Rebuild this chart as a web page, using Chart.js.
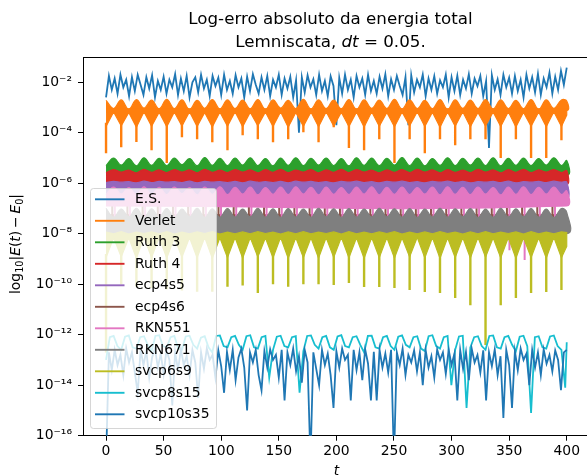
<!DOCTYPE html>
<html>
<head>
<meta charset="utf-8">
<script src="https://cdn.jsdelivr.net/npm/chart.js@4.4.1/dist/chart.umd.min.js"></script>
<style>
  html, body { margin: 0; padding: 0; background: #fff; }
</style>
</head>
<body>
<canvas id="grafico" width="587" height="476"></canvas>
<script>
// Log10 do erro absoluto da energia, Lemniscata com dt = 0.05
// Os valores abaixo são expoentes (log10), convertidos em 10**e na hora de montar os datasets.

const FONTE = 'DejaVu Sans, sans-serif';

// grades de tempo (meio período e quarto de período da órbita, ~13.18)
const passoMeio = 6.59;
const passoQuarto = 3.295;
const passoRuido = 2.5;
const tMeio = Array.from({ length: 61 }, (_, i) => +(i * passoMeio).toFixed(2)).concat([400]);
const tQuarto = Array.from({ length: 122 }, (_, i) => +(i * passoQuarto).toFixed(2)).concat([400]);
const tRuido = Array.from({ length: 161 }, (_, i) => i * passoRuido);
const tPicos = tMeio.filter((_, i) => i % 2 === 0 && i <= 60);   // k*P
const tVales = tMeio.filter((_, i) => i % 2 === 1 && i < 60);    // (k+1/2)*P
const tExtremos = [0, 400];

const rotulos = ['E.S.', 'Verlet', 'Ruth 3', 'Ruth 4', 'ecp4s5', 'ecp4s6',
  'RKN551', 'RKN671', 'svcp6s9', 'svcp8s15', 'svcp10s35'];
const cores = ['#1f77b4', '#ff7f0e', '#2ca02c', '#d62728', '#9467bd', '#8c564b',
  '#e377c2', '#7f7f7f', '#bcbd22', '#17becf', '#1f77b4'];

const xTicks = [0, 50, 100, 150, 200, 250, 300, 350, 400];
const yExpoentes = [-16, -14, -12, -10, -8, -6, -4, -2];

// E.S. (linha ruidosa, passo 2.5)
const esExp = [
  -2.60, -1.75, -2.30, -1.85, -2.45, -1.70, -2.20, -1.90, -2.55, -1.80,
  -2.35, -1.70, -2.10, -2.50, -1.80, -2.25, -1.72, -2.60, -1.95, -2.30,
  -1.78, -2.45, -1.90, -2.20, -1.68, -2.50, -1.85, -2.35, -1.75, -2.60,
  -2.00, -1.80, -2.40, -1.70, -2.25, -1.90, -2.55, -1.75, -2.15, -1.82,
  -2.50, -1.70, -2.30, -1.95, -2.45, -1.72, -2.20, -1.85, -2.60, -1.78,
  -2.35, -1.68, -2.10, -2.45, -1.80, -2.30, -1.75, -2.55, -1.90, -2.20,
  -1.70, -2.50, -1.85, -2.25, -1.78, -2.60, -1.92, -4.00, -1.80, -2.40,
  -1.72, -2.20, -1.88, -2.50, -1.70, -2.35, -1.95, -2.55, -1.76, -2.15,
  -3.70, -1.82, -2.45, -1.70, -2.30, -1.90, -2.60, -1.75, -2.20, -1.85,
  -2.50, -1.70, -2.35, -1.95, -2.45, -1.78, -2.25, -1.68, -2.55, -1.88,
  -2.30, -1.75, -2.15, -2.50, -1.80, -3.70, -1.72, -2.40, -1.90, -2.20,
  -1.70, -2.55, -1.85, -2.30, -1.76, -2.45, -1.92, -2.20, -1.70, -2.60,
  -1.80, -2.35, -1.74, -2.50, -1.90, -2.25, -1.68, -2.45, -1.85, -2.15,
  -1.75, -2.55, -1.95, -4.60, -1.72, -2.30, -1.88, -2.50, -1.70, -2.20,
  -1.82, -2.45, -1.75, -2.35, -1.90, -2.60, -1.70, -2.25, -1.80, -2.40,
  -1.66, -2.50, -1.85, -2.20, -1.62, -2.45, -1.78, -2.30, -1.55, -2.10,
  -1.42
];

// Verlet: topo (cúpulas), base (estalactites) e espinhos em k*P
const verletTopo = [
  -2.72, -3.04, -2.70, -3.07, -2.69, -3.02, -2.71, -3.05, -2.68, -3.04,
  -2.70, -3.08, -2.72, -3.03, -2.69, -3.06, -2.70, -3.04, -2.71, -3.05,
  -2.69, -3.07, -2.70, -3.02, -2.72, -3.04, -2.68, -3.06, -2.70, -3.04,
  -2.71, -3.05, -2.69, -3.07, -2.70, -3.03, -2.71, -3.04, -2.68, -3.06,
  -2.70, -3.04, -2.72, -3.05, -2.69, -3.07, -2.70, -3.03, -2.71, -3.04,
  -2.69, -3.06, -2.70, -3.04, -2.72, -3.05, -2.69, -3.07, -2.70, -3.03,
  -2.70, -2.74
];
const verletBase = [
  -3.75, -3.18, -3.72, -3.20, -3.78, -3.17, -3.74, -3.19, -3.76, -3.18,
  -3.73, -3.17, -3.75, -3.20, -3.77, -3.18, -3.74, -3.17, -3.76, -3.19,
  -3.72, -3.18, -3.75, -3.17, -3.78, -3.20, -3.74, -3.18, -3.76, -3.17,
  -3.73, -3.19, -3.75, -3.18, -3.77, -3.17, -3.74, -3.20, -3.76, -3.18,
  -3.72, -3.17, -3.75, -3.19, -3.78, -3.18, -3.74, -3.17, -3.76, -3.20,
  -3.73, -3.18, -3.75, -3.17, -3.77, -3.19, -3.74, -3.18, -3.76, -3.17,
  -3.75, -3.30
];
const verletMeio = [-3.12, -3.12];   // faixa contínua entre as cúpulas e as estalactites
const verletEspinho = [
  -4.81, -4.57, -4.37, -4.69, -5.20, -4.18, -4.26, -4.38, -4.69, -4.10,
  -4.26, -4.38, -4.26, -3.98, -4.38, -3.78, -4.60, -4.69, -4.26, -5.20,
  -4.26, -4.81, -4.26, -4.50, -4.26, -4.26, -5.00, -4.26, -5.00, -5.00,
  -4.30
];

// Ruth 3
const ruth3Topo = [
  -5.30, -5.00, -5.28, -5.02, -5.31, -4.99, -5.29, -5.01, -5.30, -5.00,
  -5.27, -5.02, -5.31, -4.98, -5.29, -5.01, -5.30, -5.00, -5.28, -4.99,
  -5.30, -5.02, -5.31, -5.00, -5.29, -4.99, -5.30, -5.01, -5.28, -5.00,
  -5.30, -5.02, -5.31, -4.99, -5.29, -5.00, -5.30, -5.01, -5.28, -4.98,
  -5.30, -5.00, -5.31, -5.02, -5.29, -4.99, -5.30, -5.01, -5.28, -5.00,
  -5.30, -4.99, -5.31, -5.01, -5.29, -5.00, -5.30, -5.02, -5.28, -4.99,
  -5.30, -5.10
];
const ruth3Base = [-5.70, -5.70];

// Ruth 4
const ruth4Topo = [
  -5.58, -5.46, -5.56, -5.48, -5.59, -5.45, -5.57, -5.47, -5.58, -5.46,
  -5.56, -5.47, -5.59, -5.45, -5.57, -5.48, -5.58, -5.46, -5.56, -5.47,
  -5.59, -5.46, -5.57, -5.45, -5.58, -5.48, -5.56, -5.46, -5.59, -5.47,
  -5.57, -5.45, -5.58, -5.46, -5.56, -5.48, -5.59, -5.47, -5.57, -5.46,
  -5.58, -5.45, -5.56, -5.47, -5.59, -5.46, -5.57, -5.48, -5.58, -5.45,
  -5.56, -5.47, -5.59, -5.46, -5.57, -5.45, -5.58, -5.47, -5.56, -5.46,
  -5.58, -5.50
];
const ruth4Base = [-6.05, -6.05];

// ecp4s5
const ecp4s5Topo = [
  -5.97, -5.93, -5.96, -5.94, -5.98, -5.92, -5.97, -5.93, -5.96, -5.94,
  -5.97, -5.92, -5.98, -5.93, -5.96, -5.94, -5.97, -5.93, -5.98, -5.92,
  -5.96, -5.94, -5.97, -5.93, -5.98, -5.92, -5.96, -5.93, -5.97, -5.94,
  -5.98, -5.93, -5.96, -5.92, -5.97, -5.94, -5.98, -5.93, -5.96, -5.92,
  -5.97, -5.94, -5.98, -5.93, -5.96, -5.92, -5.97, -5.93, -5.98, -5.94,
  -5.96, -5.93, -5.97, -5.92, -5.98, -5.94, -5.96, -5.93, -5.97, -5.92,
  -5.96, -5.95
];
const ecp4s5Base = [-6.60, -6.60];

// ecp4s6 (quase todo coberto; só aparecem os espinhos entre as cúpulas cinza)
const ecp4s6Topo = [-7.25, -7.25];
const ecp4s6Base = [-7.90, -7.90];
const ecp4s6Espinho = [
  -6.75, -6.72, -6.78, -6.74, -6.76, -6.73, -6.77, -6.75, -6.72, -6.78,
  -6.74, -6.76, -6.73, -6.77, -6.75, -6.72, -6.78, -6.74, -6.76, -6.73,
  -6.77, -6.75, -6.72, -6.78, -6.74, -6.76, -6.73, -6.77, -6.75, -6.74
];

// RKN551
const rkn551Topo = [
  -6.45, -6.15, -6.43, -6.17, -6.46, -6.14, -6.44, -6.16, -6.45, -6.15,
  -6.42, -6.17, -6.46, -6.15, -6.44, -6.14, -6.45, -6.16, -6.43, -6.15,
  -6.46, -6.17, -6.44, -6.15, -6.45, -6.14, -6.43, -6.16, -6.46, -6.15,
  -6.44, -6.17, -6.45, -6.15, -6.43, -6.14, -6.46, -6.16, -6.44, -6.15,
  -6.45, -6.17, -6.43, -6.15, -6.46, -6.14, -6.44, -6.16, -6.45, -6.15,
  -6.43, -6.17, -6.46, -6.15, -6.44, -6.14, -6.45, -6.16, -6.43, -6.15,
  -6.45, -6.30
];
const rkn551Base = [-6.90, -6.90];
const rkn551Espinho = [
  -7.85, -7.80, -7.90, -7.85, -7.82, -7.88, -7.85, -7.80, -7.90, -7.85,
  -7.82, -7.88, -7.85, -7.80, -7.90, -7.85, -7.82, -7.88, -7.85, -7.80,
  -7.90, -7.85, -7.82, -7.88, -7.85, -7.80, -8.65, -9.04, -7.90, -7.85
];

// RKN671
const rkn671Topo = [
  -7.00, -7.35, -7.02, -7.33, -6.99, -7.36, -7.01, -7.34, -7.00, -7.35,
  -7.02, -7.33, -6.99, -7.36, -7.01, -7.35, -7.00, -7.34, -7.02, -7.33,
  -6.99, -7.35, -7.01, -7.36, -7.00, -7.34, -7.02, -7.35, -6.99, -7.33,
  -7.01, -7.36, -7.00, -7.35, -7.02, -7.34, -6.99, -7.33, -7.01, -7.35,
  -7.00, -7.36, -7.02, -7.34, -6.99, -7.35, -7.01, -7.33, -7.00, -7.36,
  -7.02, -7.35, -6.99, -7.34, -7.01, -7.33, -7.00, -7.35, -7.02, -7.36,
  -7.00, -7.15
];
const rkn671Base = [-8.00, -8.00];

// svcp6s9: topo quase plano, estalactites e espinhos longos em k*P
const svcp6s9Topo = [
  -7.93, -8.00, -7.92, -8.01, -7.94, -7.99, -7.93, -8.00, -7.92, -8.01,
  -7.94, -8.00, -7.93, -7.99, -7.92, -8.01, -7.94, -8.00, -7.93, -8.00,
  -7.92, -7.99, -7.94, -8.01, -7.93, -8.00, -7.92, -8.00, -7.94, -7.99,
  -7.93, -8.01, -7.92, -8.00, -7.94, -8.00, -7.93, -7.99, -7.92, -8.01,
  -7.94, -8.00, -7.93, -8.00, -7.92, -7.99, -7.94, -8.01, -7.93, -8.00,
  -7.92, -8.00, -7.94, -7.99, -7.93, -8.01, -7.92, -8.00, -7.94, -8.00,
  -7.93, -7.95
];
const svcp6s9Base = [
  -8.95, -8.15, -8.92, -8.16, -8.97, -8.14, -8.94, -8.15, -8.96, -8.16,
  -8.93, -8.15, -8.95, -8.14, -8.97, -8.16, -8.94, -8.15, -8.96, -8.15,
  -8.92, -8.16, -8.95, -8.14, -8.97, -8.15, -8.94, -8.16, -8.96, -8.15,
  -8.93, -8.14, -8.95, -8.16, -8.97, -8.15, -8.94, -8.15, -8.96, -8.16,
  -8.92, -8.14, -8.95, -8.15, -8.97, -8.16, -8.94, -8.15, -8.96, -8.14,
  -8.93, -8.16, -8.95, -8.15, -8.97, -8.15, -8.94, -8.16, -8.96, -8.14,
  -8.95, -8.50
];
const svcp6s9Espinho = [
  -12.70, -10.00, -10.10, -10.15, -10.20, -10.25, -10.30, -10.30, -10.10, -10.05,
  -10.35, -10.00, -10.10, -10.00, -10.00, -10.03, -9.95, -10.11, -10.11, -10.15,
  -10.23, -10.31, -10.35, -10.55, -10.83, -12.41, -10.83, -10.55, -10.35, -10.31,
  -10.23
];

// svcp8s15 (arcos, passo de um quarto de período)
const svcp8s15Exp = [
  -13.00, -12.10, -12.05, -12.45,
  -12.60, -12.08, -12.03, -12.50,  -12.55, -12.10, -12.06, -12.40,
  -12.65, -12.05, -12.02, -12.45,  -12.50, -12.10, -12.05, -12.55,
  -12.60, -12.07, -12.04, -12.40,  -12.55, -12.12, -12.06, -12.50,
  -12.70, -12.05, -12.03, -12.45,  -12.50, -12.10, -12.05, -12.40,
  -12.60, -12.06, -12.02, -12.50,  -12.55, -12.10, -12.05, -13.70,
  -12.60, -12.08, -12.04, -12.45,  -12.50, -12.10, -12.06, -14.30,
  -12.65, -12.05, -12.03, -12.40,  -12.55, -12.10, -12.05, -12.50,
  -12.60, -12.07, -12.02, -12.45,  -12.50, -12.10, -12.06, -12.40,
  -12.70, -12.05, -12.04, -12.50,  -12.55, -12.10, -12.05, -12.45,
  -12.60, -12.08, -12.03, -12.40,  -12.50, -12.10, -12.06, -12.55,
  -12.65, -12.06, -12.02, -12.45,  -12.55, -12.10, -12.05, -14.00,
  -12.60, -12.07, -12.04, -14.90,  -12.50, -12.10, -12.06, -12.45,
  -12.60, -12.05, -12.03, -12.50,  -12.55, -12.10, -12.05, -12.40,
  -12.65, -12.08, -12.04, -12.45,  -15.10, -12.10, -12.06, -12.50,
  -12.55, -12.07, -12.03, -12.45,
  -12.60, -14.10, -12.30
];

// svcp10s35 (linha ruidosa, passo 2.5)
const svcp10s35Exp = [
  -17.00, -12.70, -13.40, -12.60, -13.20, -12.80, -13.60, -12.55, -13.10, -12.70,
  -13.50, -14.30, -12.60, -13.20, -12.65, -13.70, -12.90, -12.55, -13.30, -12.75,
  -13.55, -12.60, -13.00, -14.80, -12.70, -13.40, -12.58, -13.20, -12.85, -13.60,
  -12.60, -13.10, -14.50, -12.70, -13.35, -12.55, -13.00, -12.80, -13.70, -12.62,
  -13.25, -14.30, -12.68, -13.40, -12.60, -13.80, -12.90, -12.55, -13.30, -15.00,
  -12.70, -13.10, -12.60, -13.60, -14.20, -12.65, -13.30, -12.58, -13.00, -12.80,
  -13.70, -12.60, -14.60, -12.70, -13.20, -12.55, -13.45, -12.85, -13.90, -12.60,
  -13.10, -17.00, -12.70, -13.35, -14.00, -12.60, -13.20, -12.75, -13.60, -14.90,
  -12.65, -13.30, -12.55, -13.00, -12.80, -14.60, -12.60, -13.40, -12.70, -13.80,
  -12.58, -13.15, -14.60, -12.68, -14.60, -12.60, -13.30, -12.75, -13.50, -12.60,
  -17.00, -12.70, -13.20, -12.55, -13.60, -12.80, -13.10, -12.62, -13.45, -12.70,
  -14.00, -12.60, -13.30, -12.85, -13.70, -12.58, -13.00, -12.70, -13.55, -12.60,
  -13.20, -12.75, -14.60, -12.60, -13.35, -12.68, -13.80, -12.55, -13.10, -12.80,
  -13.50, -12.62, -14.60, -12.70, -13.25, -12.58, -13.60, -12.85, -15.30, -12.60,
  -13.20, -14.90, -12.65, -13.40, -12.55, -13.00, -12.75, -14.00, -12.60, -13.30,
  -12.70, -13.60, -12.58, -13.15, -12.80, -13.45, -12.62, -13.00, -14.20, -12.70,
  -12.60
];

// ---------- montagem dos datasets ----------
function pontos(ts, exps) {
  return exps.map((e, i) => ({ x: ts[i], y: Math.pow(10, e) }));
}
// polígono: topo da esquerda p/ direita, base de volta
function faixa(tsTopo, topo, tsBase, base) {
  return pontos(tsTopo, topo).concat(pontos(tsBase, base).reverse());
}
// segmentos verticais separados por null
function espinhos(ts, de, ate) {
  const out = [];
  ts.forEach((t, i) => {
    out.push({ x: t, y: Math.pow(10, de) }, { x: t, y: Math.pow(10, ate[i]) }, { x: t, y: null });
  });
  return out;
}

function linha(data, cor, largura) {
  return { data, borderColor: cor, backgroundColor: cor, borderWidth: largura || 1.8, fill: false, pointRadius: 0 };
}
// tensao > 0 arredonda as cúpulas
function area(data, cor, tensao) {
  return { data, borderColor: cor, backgroundColor: cor, borderWidth: 1.2, fill: 'shape', pointRadius: 0, tension: tensao || 0 };
}

const camadas = [
  linha(pontos(tRuido, esExp), cores[0], 1.8),
  area(faixa(tMeio, verletTopo, tExtremos, verletMeio), cores[1], 0.4),
  area(faixa(tExtremos, [-3.05, -3.05], tMeio, verletBase), cores[1]),
  linha(espinhos(tPicos, -3.6, verletEspinho), cores[1], 2.4),
  area(faixa(tMeio, ruth3Topo, tExtremos, ruth3Base), cores[2], 0.4),
  area(faixa(tMeio, ruth4Topo, tExtremos, ruth4Base), cores[3], 0.3),
  area(faixa(tMeio, ecp4s5Topo, tExtremos, ecp4s5Base), cores[4], 0.3),
  area(faixa(tExtremos, ecp4s6Topo, tExtremos, ecp4s6Base), cores[5]),
  linha(espinhos(tVales.map(t => t - 1.2), -7.3, ecp4s6Espinho), cores[5], 2),
  area(faixa(tMeio, rkn551Topo, tExtremos, rkn551Base), cores[6], 0.4),
  linha(espinhos(tVales.map(t => t + 1.0), -6.85, rkn551Espinho), cores[6], 2),
  area(faixa(tMeio, rkn671Topo, tExtremos, rkn671Base), cores[7], 0.4),
  area(faixa(tMeio, svcp6s9Topo, tMeio, svcp6s9Base), cores[8]),
  linha(espinhos(tPicos, -8.8, svcp6s9Espinho), cores[8], 2.4),
  linha(pontos(tQuarto, svcp8s15Exp), cores[9], 1.8),
  linha(pontos(tRuido, svcp10s35Exp), cores[10], 1.8)
];
// o Chart.js desenha o dataset 0 por cima, então invertemos
const datasets = camadas.slice().reverse();

// ---------- textos, moldura superior e legenda ----------
const SUP = { '-': '\u207B', '0': '\u2070', '1': '\u00B9', '2': '\u00B2', '3': '\u00B3', '4': '\u2074',
  '5': '\u2075', '6': '\u2076', '7': '\u2077', '8': '\u2078', '9': '\u2079' };
function potencia(v) {
  const e = String(Math.round(Math.log10(v)));
  return '10' + e.split('').map(c => SUP[c]).join('');
}

function larguraPartes(ctx, partes) {
  let w = 0;
  partes.forEach(p => { ctx.font = p.f; w += ctx.measureText(p.t).width; });
  return w;
}
function escreverPartes(ctx, partes, cx, y) {
  let x = cx - larguraPartes(ctx, partes) / 2;
  partes.forEach(p => {
    ctx.font = p.f;
    ctx.fillText(p.t, x, y + (p.dy || 0));
    x += ctx.measureText(p.t).width;
  });
}

const TAM = 13.9;
const N17 = '16.7px ' + FONTE, I17 = 'italic 16.7px ' + FONTE;
const N14 = TAM + 'px ' + FONTE, I14 = 'italic ' + TAM + 'px ' + FONTE, S10 = '9.7px ' + FONTE;

const decoracao = {
  id: 'decoracao',
  afterDraw(chart) {
    const ctx = chart.ctx;
    const a = chart.chartArea;
    ctx.save();
    ctx.fillStyle = '#000';
    ctx.textAlign = 'left';
    ctx.textBaseline = 'alphabetic';

    // moldura superior
    ctx.strokeStyle = '#000';
    ctx.lineWidth = 1;
    ctx.beginPath();
    ctx.moveTo(a.left, a.top + 0.5);
    ctx.lineTo(a.right, a.top + 0.5);
    ctx.stroke();

    // título em duas linhas
    const centroTitulo = 330.5;
    escreverPartes(ctx, [{ t: 'Log-erro absoluto da energia total', f: N17 }], centroTitulo, 24);
    escreverPartes(ctx, [
      { t: 'Lemniscata, ', f: N17 }, { t: 'dt', f: I17 }, { t: ' = 0.05', f: N17 }, { t: '.', f: N17 }
    ], centroTitulo, 47);

    // rótulo do eixo x
    escreverPartes(ctx, [{ t: 't', f: I14 }], 336.4, 474.5);

    // rótulo do eixo y (girado)
    ctx.save();
    ctx.translate(19.5, 244);
    ctx.rotate(-Math.PI / 2);
    escreverPartes(ctx, [
      { t: 'log', f: N14 }, { t: '10', f: S10, dy: 3.2 }, { t: '|', f: N14 },
      { t: 'E', f: I14 }, { t: '(', f: N14 }, { t: 't', f: I14 }, { t: ')\u2009\u2212\u2009', f: N14 },
      { t: 'E', f: I14 }, { t: '0', f: S10, dy: 3.2 }, { t: '|', f: N14 }
    ], 0, 0);
    ctx.restore();

    // legenda
    const lx = 90.5, ly = 188.5, lw = 126, lh = 240;
    ctx.beginPath();
    ctx.roundRect(lx, ly, lw, lh, 3);
    ctx.fillStyle = 'rgba(255,255,255,0.8)';
    ctx.fill();
    ctx.strokeStyle = 'rgba(204,204,204,0.8)';
    ctx.lineWidth = 1;
    ctx.stroke();
    ctx.font = N14;
    ctx.textBaseline = 'middle';
    rotulos.forEach((r, i) => {
      const y = 199.3 + i * 21.5;
      ctx.strokeStyle = cores[i];
      ctx.lineWidth = 1.9;
      ctx.beginPath();
      ctx.moveTo(95, y);
      ctx.lineTo(124.5, y);
      ctx.stroke();
      ctx.fillStyle = '#000';
      ctx.fillText(r, 135, y + 0.5);
    });
    ctx.restore();
  }
};

new Chart(document.getElementById('grafico'), {
  type: 'line',
  data: { datasets },
  options: {
    responsive: false,
    animation: false,
    devicePixelRatio: 1,
    events: [],
    layout: { padding: { top: 57, left: 0, right: 0, bottom: 0 }, autoPadding: false },
    elements: { point: { radius: 0 } },
    plugins: {
      legend: { display: false },
      title: { display: false },
      tooltip: { enabled: false }
    },
    scales: {
      x: {
        type: 'linear',
        min: -20,
        max: 417.6,
        afterBuildTicks: s => { s.ticks = xTicks.map(v => ({ value: v })); },
        afterFit: s => { s.height = 40.3; },
        grid: { drawOnChartArea: false, drawTicks: true, tickLength: 5, tickColor: '#000', tickWidth: 1 },
        border: { color: '#000', width: 1 },
        ticks: {
          color: '#000', font: { family: FONTE, size: TAM }, padding: 2,
          maxRotation: 0, autoSkip: false, callback: v => String(v)
        }
      },
      y: {
        type: 'logarithmic',
        min: 1e-16,
        max: 1e-1,
        afterBuildTicks: s => { s.ticks = yExpoentes.map(e => ({ value: Math.pow(10, e) })); },
        afterFit: s => { s.width = 83; },
        grid: { drawOnChartArea: false, drawTicks: true, tickLength: 5, tickColor: '#000', tickWidth: 1 },
        border: { color: '#000', width: 1 },
        ticks: {
          color: '#000', font: { family: FONTE, size: TAM }, padding: 6,
          autoSkip: false, callback: v => potencia(v)
        }
      }
    }
  },
  plugins: [decoracao]
});
</script>
</body>
</html>
